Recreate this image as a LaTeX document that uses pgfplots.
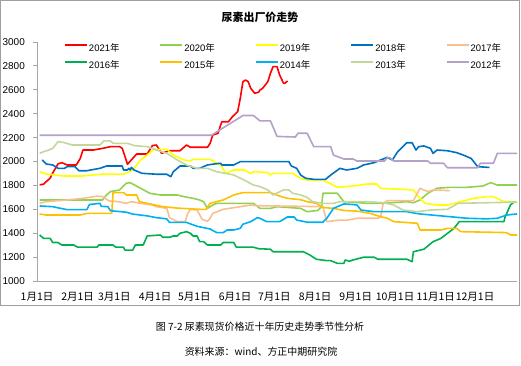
\documentclass[border=0pt]{standalone}
\usepackage{pgfplots}
\pgfplotsset{compat=1.18}
\usepackage{fontspec}
\setmainfont{Liberation Sans}
\newfontfamily\cjk{Noto Sans CJK SC}
\definecolor{c21}{HTML}{FF0000}
\definecolor{c20}{HTML}{92D050}
\definecolor{c19}{HTML}{FFFF00}
\definecolor{c18}{HTML}{0070C0}
\definecolor{c17}{HTML}{FABF8F}
\definecolor{c16}{HTML}{00B050}
\definecolor{c15}{HTML}{FFC000}
\definecolor{c14}{HTML}{00B0F0}
\definecolor{c13}{HTML}{C3D69B}
\definecolor{c12}{HTML}{B3A2C7}
\definecolor{axgray}{HTML}{A6A6A6}
\begin{document}
\begin{tikzpicture}[x=1bp,y=1bp]
\draw[draw=gray!75, line width=0.8bp] (0.5,60) rectangle (519.5,364.5);
\node[font=\cjk\bfseries\fontsize{11}{13}\selectfont] at (260,348) {尿素出厂价走势};
\begin{axis}[
  at={(37bp,84bp)}, anchor=south west,
  scale only axis, width=480bp, height=239bp,
  xmin=0, xmax=366, ymin=1000, ymax=3000,
  axis x line*=bottom, axis y line*=left,
  axis line style={-, draw=axgray, line width=0.8bp},
  ytick={1000,1200,1400,1600,1800,2000,2200,2400,2600,2800,3000},
  xtick={0,31,59,90,120,151,181,212,243,273,304,334},
  xticklabels={1月1日,2月1日,3月1日,4月1日,5月1日,6月1日,7月1日,8月1日,9月1日,10月1日,11月1日,12月1日},
  x tick style={draw=none},
  y tick style={draw=axgray, line width=0.8bp},
  tick align=outside, major tick length=4bp,
  /pgf/number format/assume math mode=true,
  /pgf/number format/1000 sep={},
  yticklabel style={font=\fontsize{10}{12}\selectfont, inner xsep=0pt, xshift=-8bp},
  xticklabel style={font=\cjk\fontsize{10.5}{12}\selectfont, inner ysep=0pt, yshift=-7bp},
  legend columns=5,
  legend style={at={(0.05625,0.993)}, anchor=north west, draw=none, fill=none,
    inner sep=0pt, outer sep=0pt, row sep=7bp,
    font=\fontsize{9.5}{11}\selectfont,
    nodes={inner xsep=1bp, inner ysep=0pt, text height=8bp, text depth=2bp},
    /tikz/every even column/.append style={column sep=38.9bp}},
  legend image code/.code={\draw[#1, line width=2bp] (0bp,3.5bp) -- (22bp,3.5bp);},
  every axis plot/.append style={line width=1.6bp, line join=round},
]
\addplot[c21] coordinates {(2,1805)(5,1810)(7,1831)(10,1860)(12,1904)(16,1980)(19,1990)(23,1971)(30,1971)(33,2026)(35,2096)(43,2096)(50,2110)(56,2124)(63,2124)(65,2110)(69,1977)(76,2063)(84,2063)(88,2133)(91,2138)(95,2068)(101,2090)(109,2090)(114,2138)(117,2119)(130,2119)(132,2152)(134,2222)(138,2236)(140,2305)(141,2333)(146,2333)(149,2375)(153,2417)(155,2529)(157,2668)(159,2682)(161,2668)(163,2612)(166,2571)(169,2580)(170,2598)(172,2612)(176,2668)(178,2738)(180,2794)(183,2794)(185,2724)(188,2654)(189,2654)(191,2674)};
\addlegendentry{2021{\cjk 年}}
\addplot[c20] coordinates {(2,1678)(50,1678)(53,1720)(56,1748)(63,1762)(68,1818)(71,1823)(79,1776)(86,1734)(94,1720)(107,1720)(112,1706)(119,1692)(124,1678)(127,1664)(130,1608)(134,1636)(137,1650)(165,1650)(170,1608)(178,1608)(183,1622)(201,1608)(206,1580)(214,1590)(217,1620)(218,1734)(229,1734)(234,1664)(252,1650)(264,1650)(282,1664)(287,1655)(292,1678)(298,1734)(305,1776)(315,1784)(328,1784)(340,1795)(346,1823)(351,1803)(366,1803)};
\addlegendentry{2020{\cjk 年}}
\addplot[c19] coordinates {(2,1915)(7,1895)(20,1879)(35,1879)(48,1893)(66,1895)(71,1915)(74,1943)(79,2013)(84,2054)(89,2102)(99,2102)(104,2054)(112,2013)(117,2005)(119,2018)(132,2018)(135,1999)(140,1971)(144,1901)(150,1929)(158,1929)(163,1901)(165,1915)(176,1907)(178,1887)(180,1901)(195,1901)(201,1859)(206,1845)(218,1845)(224,1812)(229,1784)(236,1790)(245,1800)(252,1812)(259,1812)(262,1776)(287,1762)(292,1692)(296,1650)(305,1636)(313,1636)(323,1664)(333,1692)(343,1706)(348,1706)(356,1664)(366,1664)};
\addlegendentry{2019{\cjk 年}}
\addplot[c18] coordinates {(4,2013)(7,1979)(12,1971)(16,1943)(21,1943)(23,1957)(29,1957)(32,1923)(38,1923)(48,1943)(53,1962)(65,1962)(66,1929)(69,1929)(70,1943)(71,1929)(72,1951)(74,1929)(80,1901)(92,1893)(99,1893)(102,1873)(104,1915)(109,1962)(117,1962)(119,1943)(124,1943)(130,1971)(135,1979)(140,1985)(141,1971)(150,1971)(155,1999)(170,1999)(192,1999)(194,1962)(198,1943)(201,1887)(205,1859)(211,1851)(220,1851)(224,1887)(231,1943)(236,1929)(244,1943)(249,1971)(257,1990)(267,2035)(271,2013)(275,2082)(282,2157)(286,2157)(289,2096)(291,2124)(295,2130)(300,2110)(302,2068)(305,2096)(313,2090)(320,2074)(325,2054)(331,2026)(336,1957)(345,1950)};
\addlegendentry{2018{\cjk 年}}
\addplot[c17] coordinates {(2,1650)(7,1664)(23,1678)(35,1692)(46,1710)(50,1706)(55,1670)(62,1664)(68,1650)(72,1664)(79,1650)(88,1636)(91,1622)(99,1608)(101,1530)(107,1497)(113,1497)(115,1566)(117,1600)(122,1594)(126,1515)(130,1500)(132,1525)(134,1566)(142,1600)(155,1622)(163,1636)(168,1630)(218,1622)(221,1497)(231,1510)(237,1510)(244,1525)(260,1525)(262,1538)(264,1650)(267,1672)(287,1672)(290,1734)(292,1776)(298,1748)(302,1762)(315,1756)};
\addlegendentry{2017{\cjk 年}}
\addplot[c16] coordinates {(2,1385)(5,1357)(10,1357)(12,1322)(16,1322)(19,1301)(28,1301)(31,1283)(46,1283)(47,1301)(58,1301)(60,1283)(66,1283)(67,1259)(73,1259)(75,1301)(81,1301)(84,1377)(94,1385)(96,1366)(101,1366)(104,1377)(107,1377)(109,1399)(114,1413)(117,1399)(119,1377)(122,1377)(124,1329)(127,1329)(130,1301)(140,1301)(142,1322)(150,1322)(152,1283)(165,1283)(169,1270)(178,1266)(180,1245)(203,1245)(208,1218)(213,1182)(221,1170)(224,1170)(229,1148)(234,1148)(235,1176)(238,1165)(241,1176)(249,1199)(257,1199)(260,1182)(282,1182)(286,1162)(287,1245)(295,1266)(302,1329)(308,1357)(313,1399)(318,1441)(322,1497)(356,1497)(357,1538)(361,1636)(364,1664)};
\addlegendentry{2016{\cjk 年}}
\addplot[c15] coordinates {(2,1561)(7,1552)(33,1552)(38,1566)(57,1566)(58,1740)(66,1740)(68,1720)(76,1720)(78,1664)(84,1650)(96,1622)(107,1610)(124,1600)(129,1600)(132,1650)(142,1678)(150,1720)(157,1740)(178,1740)(185,1710)(191,1692)(201,1680)(206,1664)(213,1650)(218,1615)(226,1608)(234,1590)(244,1585)(254,1566)(262,1538)(267,1525)(272,1497)(290,1483)(292,1427)(308,1427)(313,1441)(320,1441)(323,1413)(358,1405)(361,1385)(366,1385)};
\addlegendentry{2015{\cjk 年}}
\addplot[c14] coordinates {(2,1628)(12,1622)(18,1608)(23,1597)(38,1597)(40,1640)(48,1650)(49,1625)(54,1622)(56,1588)(68,1576)(73,1560)(84,1545)(91,1530)(99,1520)(101,1490)(114,1490)(122,1458)(132,1435)(137,1405)(142,1405)(145,1427)(150,1427)(155,1441)(157,1475)(163,1497)(168,1530)(170,1525)(175,1497)(185,1497)(191,1536)(196,1536)(198,1510)(206,1492)(218,1492)(221,1525)(224,1575)(226,1608)(234,1645)(241,1640)(244,1636)(247,1594)(257,1580)(282,1580)(287,1570)(292,1561)(313,1540)(328,1525)(343,1520)(351,1525)(358,1552)(366,1561)};
\addlegendentry{2014{\cjk 年}}
\addplot[c13] coordinates {(2,2068)(5,2082)(9,2096)(12,2110)(16,2166)(20,2160)(27,2138)(48,2138)(51,2172)(56,2172)(58,2152)(69,2152)(74,2133)(84,2124)(91,2096)(99,2068)(107,2013)(114,1971)(122,1943)(130,1943)(137,1915)(150,1887)(158,1845)(165,1803)(170,1790)(176,1762)(180,1720)(188,1762)(192,1762)(195,1734)(201,1720)(206,1700)(210,1664)(218,1650)(226,1650)(231,1664)(252,1664)(264,1655)(272,1636)(279,1594)(290,1580)(300,1594)(313,1600)(321,1650)(366,1660)};
\addlegendentry{2013{\cjk 年}}
\addplot[c12] coordinates {(2,2220)(133,2220)(157,2385)(165,2385)(170,2340)(178,2340)(183,2210)(197,2205)(199,2236)(206,2236)(211,2124)(224,2124)(226,2054)(234,2021)(241,2021)(244,2004)(265,2004)(267,2032)(269,2032)(272,2004)(298,2004)(300,1985)(310,1985)(313,1948)(336,1948)(338,1985)(348,1985)(351,2068)(366,2068)};
\addlegendentry{2012{\cjk 年}}
\end{axis}
\node[font=\cjk\fontsize{10}{12}\selectfont] at (260,38) {图 7-2 尿素现货价格近十年历史走势季节性分析};
\node[font=\cjk\fontsize{10}{12}\selectfont] at (261,13) {资料来源：wind、方正中期研究院};
\pgfresetboundingbox
\useasboundingbox (0,0) rectangle (521,365);
\end{tikzpicture}
\end{document}
